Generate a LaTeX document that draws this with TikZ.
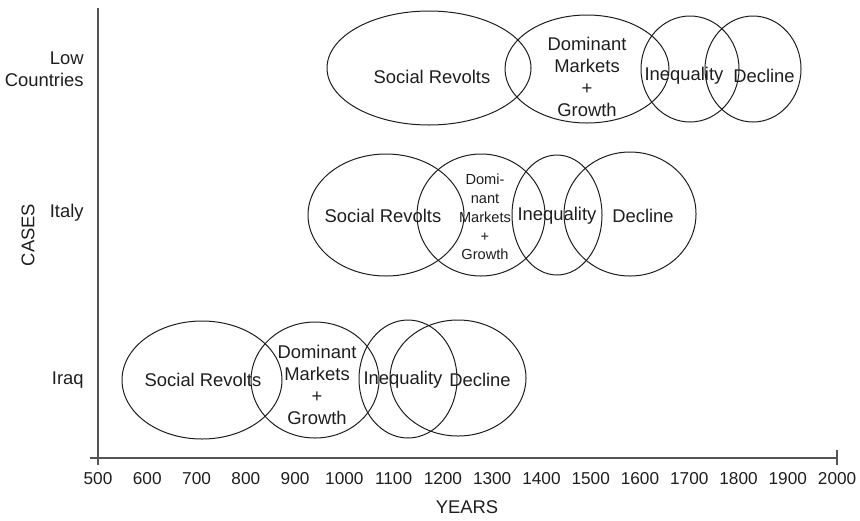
\documentclass[tikz,border=0pt]{standalone}
\usepackage{fontspec}
\setmainfont{Liberation Sans}
\usetikzlibrary{positioning}
\definecolor{inkgray}{RGB}{30,30,30}
\definecolor{axisgray}{RGB}{85,85,85}

\begin{document}
\begin{tikzpicture}[x=0.5pt,y=-0.5pt,
      blob/.style={draw=inkgray,line width=0.5pt},
      lbl/.style={text=inkgray,font=\fontsize{9.2}{11}\selectfont,align=center,inner sep=0pt},
      tiny/.style={text=inkgray,font=\fontsize{7.3}{9.4}\selectfont,align=center,inner sep=0pt},
      axis/.style={draw=axisgray,line width=0.6pt}]
      \useasboundingbox (0,0) rectangle (860,520);
      % axes
      \coordinate (ytop) at (98,8);
      \coordinate (ybot) at (98,465);
      \coordinate (xleft) at (90,458);
      \coordinate (xright) at (837,458);
      \coordinate (tickup) at (837,450);
      \coordinate (tickdn) at (837,465);
      \draw[axis] (ytop) -- (ybot);
      \draw[axis] (xleft) -- (xright);
      \draw[axis] (tickup) -- (tickdn);
      \foreach \yr in {500,600,...,2000}
        \node[lbl,font=\fontsize{8.6}{10}\selectfont] (yr\yr) at ({98+(\yr-500)*0.4927},479) {\yr};
      \node[lbl] (years) at (467,507) {YEARS};
      \node[lbl,rotate=90] (cases) at (28,235) {CASES};
      \node[lbl,align=right,anchor=east] (lowc) at (84,69) {Low\\Countries};
      \node[lbl,anchor=east] (italy) at (84,213) {Italy};
      \node[lbl,anchor=east] (iraq) at (84,380) {Iraq};
      % Low Countries
      \draw[blob] (429,68) ellipse [x radius=102, y radius=57];
      \draw[blob] (587,69) ellipse [x radius=82, y radius=54];
      \draw[blob] (690,69) ellipse [x radius=49, y radius=53];
      \draw[blob] (753,69) ellipse [x radius=48, y radius=53];
      \node[lbl] (lcrev) at (432,77) {Social Revolts};
      \node[lbl] (lcdom) at (587,77) {Dominant\\Markets\\+\\Growth};
      \node[lbl] (lcineq) at (684,76) {Inequality};
      \node[lbl] (lcdec) at (764,76) {Decline};
      % Italy
      \draw[blob] (386,215) ellipse [x radius=78, y radius=61];
      \draw[blob] (481,215) ellipse [x radius=64, y radius=61];
      \draw[blob] (557,215) ellipse [x radius=45, y radius=60];
      \draw[blob] (630,214) ellipse [x radius=66, y radius=62];
      \node[lbl] (itrev) at (383,216) {Social Revolts};
      \node[tiny] (itdom) at (485,217) {Domi-\\nant\\Markets\\+\\Growth};
      \node[lbl] (itineq) at (557,216) {Inequality};
      \node[lbl] (itdec) at (643,216) {Decline};
      % Iraq
      \draw[blob] (202,380) ellipse [x radius=80, y radius=59];
      \draw[blob] (315,380) ellipse [x radius=64, y radius=58];
      \draw[blob] (408,379) ellipse [x radius=49, y radius=59];
      \draw[blob] (458,378) ellipse [x radius=68, y radius=58];
      \node[lbl] (iqrev) at (203,380) {Social Revolts};
      \node[lbl] (iqdom) at (317,385) {Dominant\\Markets\\+\\Growth};
      \node[lbl] (iqineq) at (403,380) {Inequality};
      \node[lbl] (iqdec) at (480,380) {Decline};
    \end{tikzpicture}
\end{document}
